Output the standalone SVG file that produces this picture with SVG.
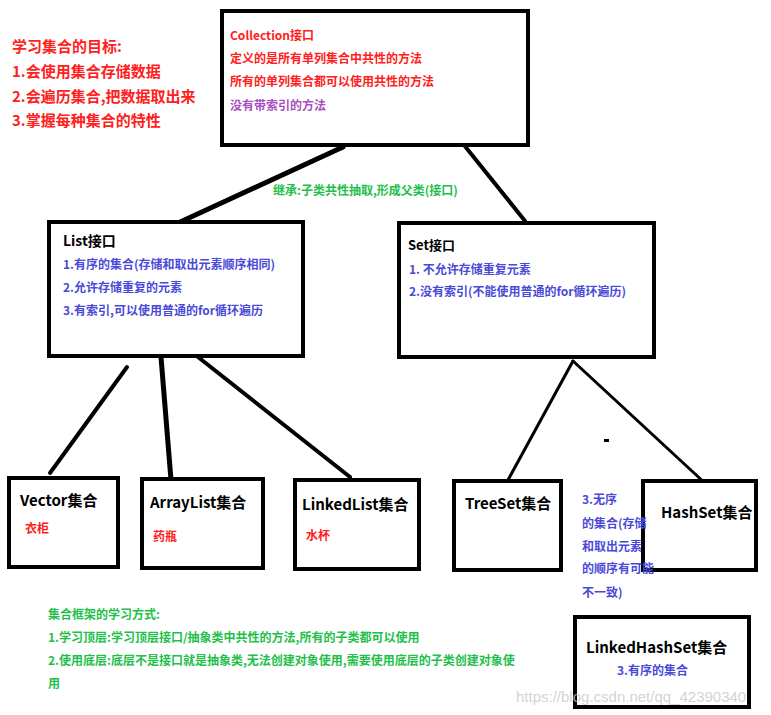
<svg xmlns="http://www.w3.org/2000/svg" width="771" height="715" viewBox="0 0 771 715">
<style>
text{font-family:"Microsoft YaHei","Noto Sans CJK SC","Noto Sans",sans-serif;font-weight:bold;font-size:12px}
.box{fill:#fff;stroke:#000;stroke-width:4}
.t{fill:#000;font-size:15px}
.r{fill:#ff2020}
.b{fill:#4a4ad8}
.p{fill:#a850c0}
.g{fill:#22c04a}
.big{font-size:15px}
.ln{stroke:#000;stroke-linecap:round;fill:none}
</style>
<rect width="771" height="715" fill="#fff"/>
<g id="connectors">
<line class="ln" x1="343" y1="147" x2="178" y2="223" stroke-width="5"/>
<line class="ln" x1="464" y1="145" x2="525" y2="221" stroke-width="4"/>
<line class="ln" x1="127" y1="367" x2="50" y2="473" stroke-width="4"/>
<line class="ln" x1="161" y1="357" x2="171" y2="480" stroke-width="5"/>
<line class="ln" x1="198" y1="357" x2="350" y2="477" stroke-width="4"/>
<line class="ln" x1="573" y1="361" x2="508" y2="480" stroke-width="3"/>
<line class="ln" x1="573" y1="361" x2="707" y2="485" stroke-width="3"/>
<rect x="604" y="439" width="5" height="3" fill="#000"/>
</g>
<g id="goals">
<text class="r big" x="12" y="52">学习集合的目标:</text>
<text class="r big" x="12" y="77">1.会使用集合存储数据</text>
<text class="r big" x="12" y="102">2.会遍历集合,把数据取出来</text>
<text class="r big" x="12" y="126">3.掌握每种集合的特性</text>
</g>
<g id="collection">
<rect class="box" x="222" y="11" width="306" height="134"/>
<text class="r" x="230" y="40">Collection接口</text>
<text class="r" x="230" y="63">定义的是所有单列集合中共性的方法</text>
<text class="r" x="230" y="86">所有的单列集合都可以使用共性的方法</text>
<text class="p" x="230" y="110">没有带索引的方法</text>
</g>
<g id="inherit">
<text class="g" x="273" y="195">继承:子类共性抽取,形成父类(接口)</text>
</g>
<g id="list">
<rect class="box" x="49" y="222" width="254" height="134"/>
<text x="63" y="246" style="font-size:14px" fill="#000">List接口</text>
<text class="b" x="63" y="269">1.有序的集合(存储和取出元素顺序相同)</text>
<text class="b" x="63" y="292">2.允许存储重复的元素</text>
<text class="b" x="63" y="315">3.有索引,可以使用普通的for循环遍历</text>
</g>
<g id="set">
<rect class="box" x="399" y="223" width="255" height="134"/>
<text x="408" y="250" style="font-size:13px" fill="#000">Set接口</text>
<text class="b" x="409" y="274">1. 不允许存储重复元素</text>
<text class="b" x="409" y="296">2.没有索引(不能使用普通的for循环遍历)</text>
</g>
<g id="vector">
<rect class="box" x="9" y="478" width="109" height="89"/>
<text class="t" x="20" y="506">Vector集合</text>
<text class="r" x="25" y="533">衣柜</text>
</g>
<g id="arraylist">
<rect class="box" x="142" y="479" width="121" height="89"/>
<text class="t" x="150" y="508">ArrayList集合</text>
<text class="r" x="153" y="541">药瓶</text>
</g>
<g id="linkedlist">
<rect class="box" x="295" y="480" width="124" height="89"/>
<text class="t" x="302" y="510">LinkedList集合</text>
<text class="r" x="306" y="540">水杯</text>
</g>
<g id="treeset">
<rect class="box" x="454" y="481" width="107" height="89"/>
<text class="t" x="465" y="509">TreeSet集合</text>
</g>
<g id="hashset">
<rect class="box" x="643" y="481" width="113" height="89"/>
<text class="t" x="661" y="518">HashSet集合</text>
</g>
<g id="unordered">
<text class="b" x="582" y="504">3.无序</text>
<text class="b" x="582" y="528">的集合(存储</text>
<text class="b" x="582" y="551">和取出元素</text>
<text class="b" x="582" y="573">的顺序有可能</text>
<text class="b" x="582" y="597">不一致)</text>
</g>
<g id="linkedhashset">
<rect class="box" x="575" y="617" width="174" height="90"/>
<text class="t" x="586" y="653">LinkedHashSet集合</text>
<text class="b" x="617" y="675">3.有序的集合</text>
</g>
<g id="howto">
<text class="g" x="48" y="619">集合框架的学习方式:</text>
<text class="g" x="48" y="642">1.学习顶层:学习顶层接口/抽象类中共性的方法,所有的子类都可以使用</text>
<text class="g" x="48" y="665">2.使用底层:底层不是接口就是抽象类,无法创建对象使用,需要使用底层的子类创建对象使</text>
<text class="g" x="48" y="688">用</text>
</g>
<g id="watermark">
<text x="516" y="702" style="font-family:'Liberation Sans',Arial,sans-serif;font-weight:normal;font-size:15px" fill="#c8c8c8" fill-opacity="0.8">https://blog.csdn.net/qq_42390340</text>
</g>
</svg>
